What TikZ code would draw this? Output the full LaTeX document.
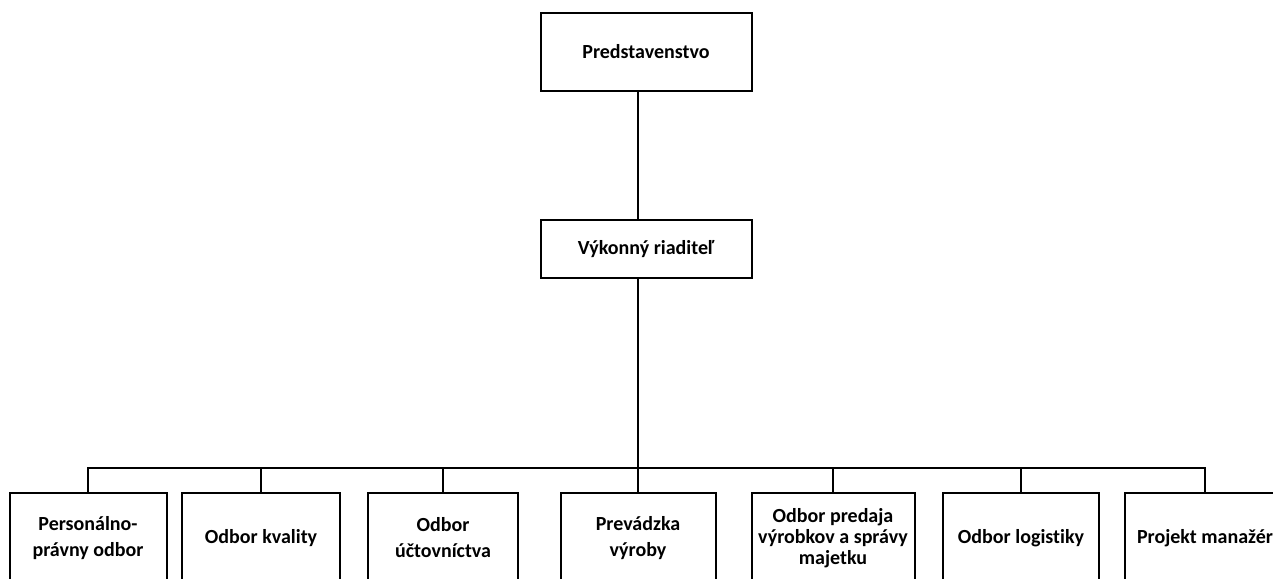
\documentclass[tikz,border=0pt]{standalone}
\usepackage{fontspec}
\setmainfont{Carlito}[Ligatures=NoCommon]
\begin{document}
\begin{tikzpicture}[x=0.75pt,y=-0.75pt]
\clip (0,0) rectangle (1273,578);

% Uzly
\begin{scope}[
		every node/.style = {shape = rectangle,
		draw = black, line width = 1.5pt, align = center,
		font = \bfseries\fontsize{15}{19.5}\selectfont}]
	\node[minimum width = 158.25pt, minimum height = 58.5pt] (P) at (646,52) {Predstavenstvo};
	\node[minimum width = 158.25pt, minimum height = 43.5pt] (V) at (646,249) {Výkonný riaditeľ};
\end{scope}

\begin{scope}[
		every node/.style = {shape = rectangle, minimum height = 67.5pt,
		draw = black, line width = 1.5pt, align = center,
		font = \bfseries\fontsize{15}{19.5}\selectfont}]
	\node[minimum width = 117.75pt] (A) at (88,538) {Personálno-\\právny odbor};
	\node[minimum width = 118.5pt] (B) at (261,538) {Odbor kvality};
	\node[minimum width = 112.5pt] (C) at (443,538) {Odbor\\účtovníctva};
	\node[minimum width = 116.25pt] (D) at (638,538) {Prevádzka\\výroby};
	\node[minimum width = 122.25pt, font = \bfseries\fontsize{15}{15.75}\selectfont] (E) at (833,538) {Odbor predaja\\výrobkov a správy\\majetku};
	\node[minimum width = 117pt] (F) at (1021,538) {Odbor logistiky};
	\node[minimum width = 120pt] (G) at (1205,538) {Projekt manažér};
\end{scope}

% Spojnice
\coordinate (T) at (638,0);
\coordinate (bar) at (638,468);
\begin{scope}[line width = 1.5pt]
	\draw (P.south -| T) -- (V.north -| T);
	\draw (V.south -| T) -- (bar);
	\foreach \n in {A,B,C,D,E,F,G}
		\draw (bar) -| (\n.north);
\end{scope}
\end{tikzpicture}
\end{document}
